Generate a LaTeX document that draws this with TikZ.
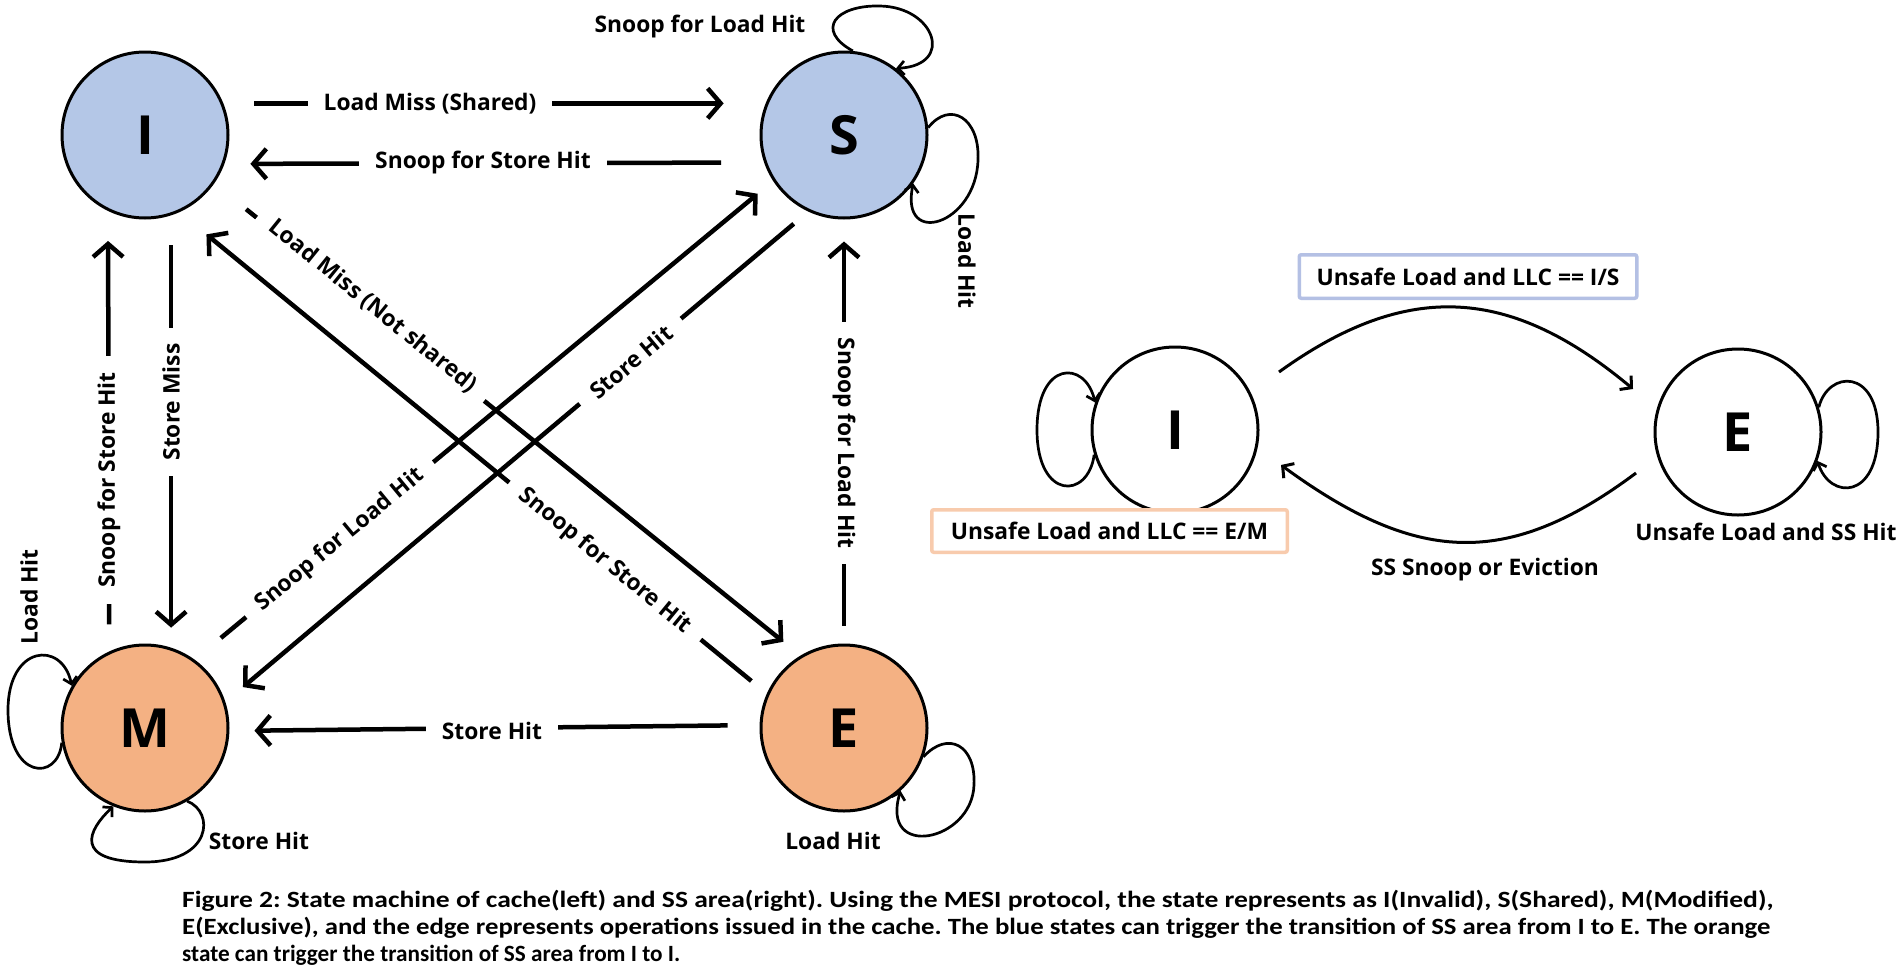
\documentclass[tikz,border=0pt]{standalone}
\usepackage{fontspec}
\usepackage{graphicx}
\setmainfont{Open Sans}
\newfontfamily\capfont{Carlito}
\usetikzlibrary{arrows.meta,calc}
\definecolor{sblue}{HTML}{B4C7E7}
\definecolor{sorange}{HTML}{F4B183}
\definecolor{bblue}{HTML}{B4C0E4}
\definecolor{borange}{HTML}{F8CBAD}
\begin{document}
\begin{tikzpicture}[x=1pt,y=-1pt,
  state/.style={circle, draw=black, line width=3pt, minimum size=166pt, inner sep=0pt,
    font=\fontsize{54}{60}\selectfont\bfseries},
  edge/.style={line width=4.5pt, -{Straight Barb[length=13pt,width=30pt]}},
  elabel/.style={fill=white, inner xsep=16pt, inner ysep=3pt,
    font=\fontsize{22.8}{27}\selectfont\bfseries},
  txt/.style={inner sep=0pt, font=\fontsize{22.8}{27}\selectfont\bfseries},
  selfloop/.style={line width=2.7pt, -{Straight Barb[length=6.5pt,width=14pt]}},
  arcedge/.style={line width=3pt, -{Straight Barb[length=8pt,width=18pt]}},
  condbox/.style={line width=3.5pt, fill=white, rounded corners=2pt, inner sep=0pt,
    font=\fontsize{22.8}{27}\selectfont\bfseries},
  captxt/.style={anchor=base west, inner sep=0pt, font=\capfont\fontsize{23.3}{27}\selectfont\bfseries\frenchspacing}
]
\fill[white] (0,0) rectangle (1898,972);
\useasboundingbox (0,0) rectangle (1898,972);

% ---------- left state machine ----------
\node[state, fill=sblue] (I) at (145,135) {I};
\node[state, fill=sblue] (S) at (844,135) {S};
\node[state, fill=sorange] (M) at (145,728) {M};
\node[state, fill=sorange] (E) at (844,728) {E};

\draw[edge, shorten <=31pt, shorten >=42pt] (I.22) -- (S.158);
\draw[edge, shorten <=43pt, shorten >=26pt] (S.199.4) -- (I.340.6);
\draw[edge, shorten <=30pt, shorten >=20pt] (I.-72.1) -- (M.72.1);
\draw[edge, shorten <=27pt, shorten >=30pt] (M.115.2) -- (I.244.8);
\draw[edge, shorten <=18pt, shorten >=22pt] (E.90) -- (S.-90);
\draw[edge, shorten <=32pt, shorten >=25pt] (E.178) -- (M.-2);
\draw[edge, shorten <=41pt, shorten >=22pt] (I.-35) -- (E.121.7);
\draw[edge, shorten <=20pt, shorten >=35pt] (E.156.7) -- (I.-66.6);
\draw[edge, shorten <=34pt, shorten >=20pt] (M.54) -- (S.213.8);
\draw[edge, shorten <=19pt, shorten >=23pt] (S.245.2) -- (M.18);

\node[elabel] (l1) at (430,104) {Load Miss (Shared)};
\node[elabel] (l2) at (483,163) {Snoop for Store Hit};
\node[elabel, rotate=90] (l3) at (171,402) {Store Miss};
\node[elabel, rotate=90] (l4) at (109,480) {Snoop for Store Hit};
\node[elabel, rotate=-90] (l5) at (844,443) {Snoop for Load Hit};
\node[elabel] (l6) at (492,731) {Store Hit};
\node[elabel, rotate=-39] (l7) at (373,306) {Load Miss (Not shared)};
\node[elabel, rotate=-39.4] (l8) at (605,561) {Snoop for Store Hit};
\node[elabel, rotate=39.5] (l9) at (340,540) {Snoop for Load Hit};
\node[elabel, rotate=40] (l10) at (631,362) {Store Hit};

% self loops
\draw[selfloop] (S.84) .. controls (815,30) and (835,5) .. (880,6)
  .. controls (935,7) and (955,65) .. (S.52);
\draw[selfloop] (S.5) .. controls (950,100) and (980,118) .. (978,160)
  .. controls (976,225) and (900,248) .. (S.-35);
\draw[selfloop] (M.190) .. controls (58,782) and (8,780) .. (8,710)
  .. controls (8,645) and (62,640) .. (M.150);
\draw[selfloop] (M.-60) .. controls (215,812) and (212,862) .. (145,862)
  .. controls (72,862) and (88,830) .. (M.-112);
\draw[selfloop] (E.-20) .. controls (948,730) and (976,745) .. (974,785)
  .. controls (972,842) and (880,860) .. (E.-48);

\node[txt] (t1) at (700,27) {Snoop for Load Hit};
\node[txt, rotate=-90] (t2) at (967,261) {Load Hit};
\node[txt, rotate=90] (t3) at (29,597) {Load Hit};
\node[txt] (t4) at (259,841) {Store Hit};
\node[txt] (t5) at (833,841) {Load Hit};

% ---------- right state machine ----------
\node[state, fill=white] (I2) at (1175,430) {I};
\node[state, fill=white] (E2) at (1738,432) {E};

\coordinate (a1) at ($(I2.center)+(104,-58)$);
\coordinate (a2) at ($(E2.center)+(-105,-43)$);
\coordinate (b1) at ($(E2.center)+(-102,41)$);
\coordinate (b2) at ($(I2.center)+(106,35)$);
\draw[arcedge] (a1) .. controls (1408,279) and (1511,287) .. (a2);
\draw[arcedge] (b1) .. controls (1505,571) and (1414,562) .. (b2);

\draw[selfloop] (I2.197) .. controls (1088,500) and (1037,500) .. (1037,430)
  .. controls (1037,360) and (1085,360) .. (I2.161);
\draw[selfloop] (E2.17) .. controls (1828,370) and (1878,368) .. (1878,432)
  .. controls (1878,500) and (1830,500) .. (E2.-20);

\node[condbox, draw=bblue, minimum width=337.5pt, minimum height=43.5pt] (bs) at (1468,276.5) {Unsafe Load and LLC == I/S};
\node[condbox, draw=borange, minimum width=355.5pt, minimum height=42.5pt] (bm) at (1109.5,531) {Unsafe Load and LLC == E/M};
\node[txt] (t6) at (1766,532) {Unsafe Load and SS Hit};
\node[txt] (t7) at (1485,570) {SS Snoop or Eviction};

% ---------- caption ----------
\node[captxt] (c1) at (182,907) {\resizebox{1591pt}{\height}{Figure 2: State machine of cache(left) and SS area(right). Using the MESI protocol, the state represents as I(Invalid), S(Shared), M(Modified),}};
\node[captxt] (c2) at (182,934) {\resizebox{1588pt}{\height}{E(Exclusive), and the edge represents operations issued in the cache. The blue states can trigger the transition of SS area from I to E. The orange}};
\node[captxt] (c3) at (182,961) {\resizebox{498pt}{\height}{state can trigger the transition of SS area from I to I.}};
\end{tikzpicture}
\end{document}
